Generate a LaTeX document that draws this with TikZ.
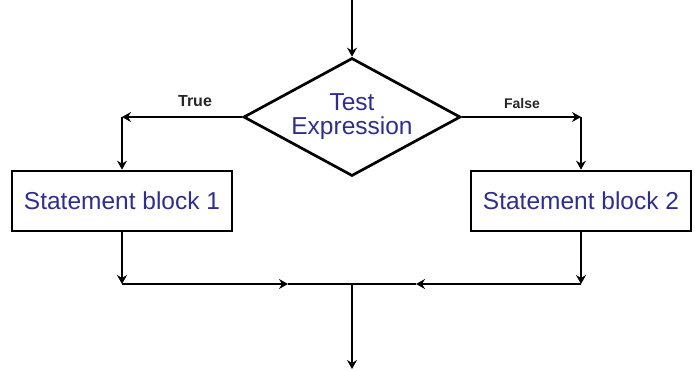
\documentclass[tikz,border=0pt]{standalone}
\usepackage{fontspec}
\setmainfont{Liberation Sans}
\usetikzlibrary{shapes.geometric,arrows.meta}
\definecolor{txtblue}{RGB}{46,46,145}
\begin{document}
\begin{tikzpicture}[x=1pt,y=-1pt,
  line width=2.7pt,
  flow/.style={-{Stealth[length=9pt,width=10pt,inset=3pt]}},
  blocktext/.style={text=txtblue,font=\fontsize{24.5}{24}\selectfont},
  decision/.style={draw,diamond,aspect=1.84,minimum width=217pt,minimum height=118pt,inner sep=0pt,align=center,blocktext},
  stmt/.style={draw,rectangle,minimum width=220pt,minimum height=60pt,inner sep=0pt,blocktext},
  lbl/.style={font=\bfseries\fontsize{#1}{#1}\selectfont,text=black!85}]
\useasboundingbox (0,0) rectangle (695,370);
\node[decision] (dec) at (352,117) {Test\\Expression};
\node[stmt] (b1) at (122,201) {Statement block 1};
\node[stmt] (b2) at (581,201) {Statement block 2};
\coordinate (top) at (352,0);
\coordinate (cl) at (122,117);
\coordinate (cr) at (581,117);
\coordinate (jl) at (122,284);
\coordinate (jr) at (581,284);
\coordinate (ml) at (288,284);
\coordinate (mr) at (416,284);
\coordinate (j) at (352,284);
\coordinate (bot) at (352,369);
\node[lbl=16] (t) at (195,101) {True};
\node[lbl=14] (f) at (522,103) {False};
\draw[flow] (top) -- (dec.north);
\draw[flow] (dec.west) -- (cl);
\draw[flow] (cl) -- (b1.north);
\draw[flow] (dec.east) -- (cr);
\draw[flow] (cr) -- (b2.north);
\draw[flow] (b1.south) -- (jl);
\draw[flow] (b2.south) -- (jr);
\draw[flow] (jl) -- (ml);
\draw (ml) -- (j);
\draw[flow] (jr) -- (mr);
\draw (mr) -- (j);
\draw[flow] (j) -- (bot);
\end{tikzpicture}
\end{document}
